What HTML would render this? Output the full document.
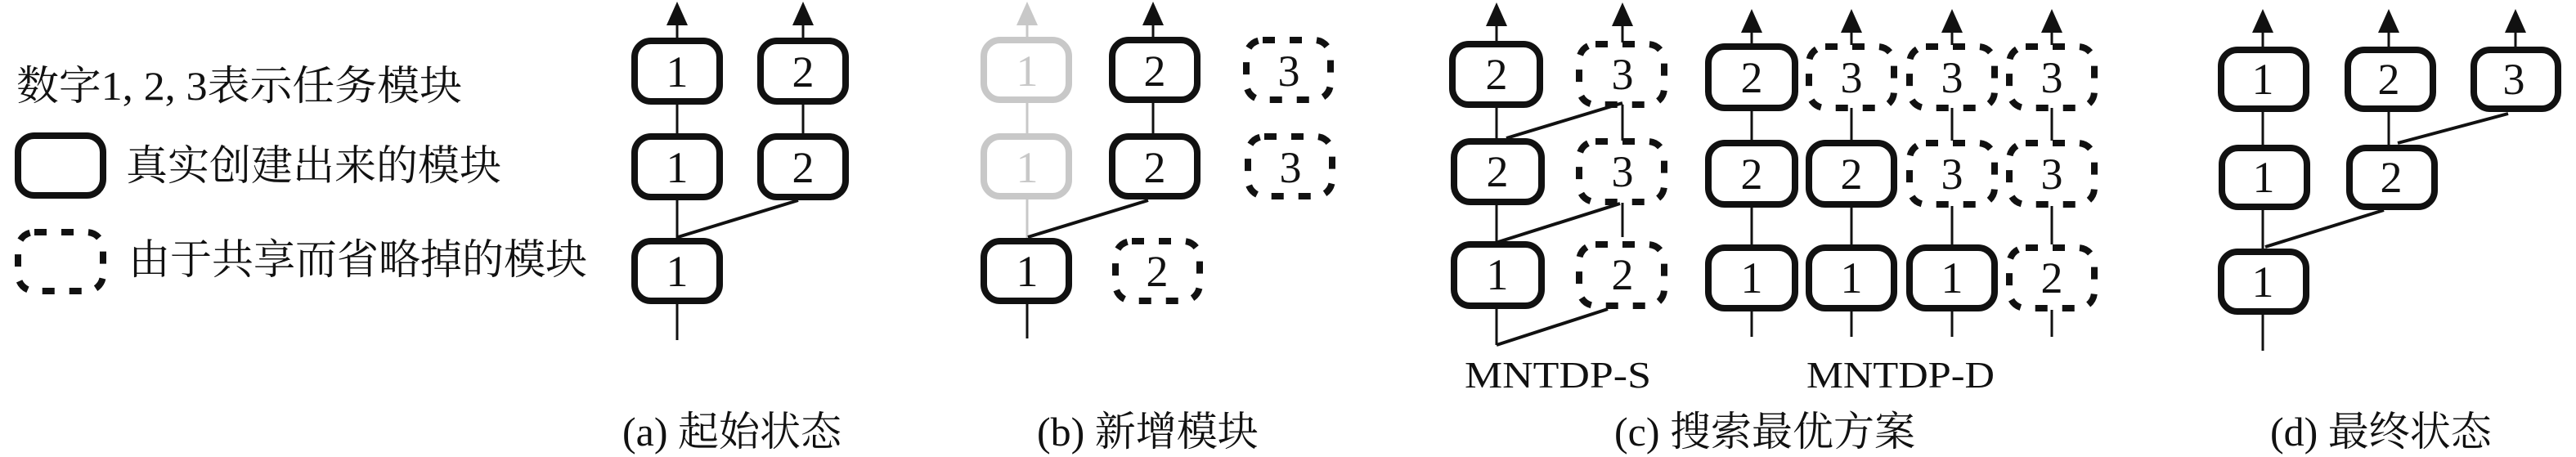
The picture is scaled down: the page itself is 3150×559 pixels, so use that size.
<!DOCTYPE html>
<html><head><meta charset="utf-8"><style>
html,body{margin:0;padding:0;background:#fff;}
svg{display:block;}
.t{font-family:"Liberation Serif","Noto Serif CJK SC",serif;fill:#111;}
.n{font-family:"Liberation Serif",serif;font-size:54px;fill:#111;text-anchor:middle;}
</style></head><body>
<svg width="3150" height="559" viewBox="0 0 3150 559" xmlns="http://www.w3.org/2000/svg">
<defs>
<g id="ah"><polygon points="0,-2 -13,27 13,27" fill="#111"/></g>
<g id="ahg"><polygon points="0,-2 -13,27 13,27" fill="#c8c8c8"/></g>
</defs>
<g fill="none" stroke-linecap="butt">
<rect x="22" y="166" width="104" height="73" rx="20" stroke="#111" stroke-width="8"/>
<rect x="22" y="284" width="104" height="72" rx="20" stroke="#111" stroke-width="8" stroke-dasharray="15 18"/>
</g>
<text class="t" x="20" y="122" font-size="50" textLength="545" lengthAdjust="spacingAndGlyphs">数字1, 2, 3表示任务模块</text>
<text class="t" x="154" y="220" font-size="51">真实创建出来的模块</text>
<text class="t" x="157" y="335" font-size="51">由于共享而省略掉的模块</text>

<!-- ===== Panel a ===== -->
<g stroke="#111" stroke-width="3" fill="none">
<line x1="828" y1="25" x2="828" y2="46"/>
<line x1="982" y1="25" x2="982" y2="46"/>
<line x1="828" y1="126" x2="828" y2="163"/>
<line x1="982" y1="126" x2="982" y2="163"/>
<line x1="828" y1="245" x2="828" y2="291"/>
<line x1="828" y1="371" x2="828" y2="416"/>
<line x1="976" y1="245" x2="829" y2="290" stroke-width="4"/>
</g>
<use href="#ah" x="828" y="4"/><use href="#ah" x="982" y="4"/>
<g fill="#fff" stroke="#111" stroke-width="8">
<rect x="776" y="50" width="104" height="74" rx="20"/>
<rect x="930" y="50" width="104" height="74" rx="20"/>
<rect x="776" y="167" width="104" height="74" rx="20"/>
<rect x="930" y="167" width="104" height="74" rx="20"/>
<rect x="776" y="295" width="104" height="73" rx="20"/>
</g>
<text class="n" x="828" y="106">1</text><text class="n" x="982" y="106">2</text>
<text class="n" x="828" y="223">1</text><text class="n" x="982" y="223">2</text>
<text class="n" x="828" y="350">1</text>
<text class="t" x="761" y="545" font-size="50">(a) 起始状态</text>

<!-- ===== Panel b ===== -->
<g stroke-width="3" fill="none">
<line x1="1256" y1="25" x2="1256" y2="45" stroke="#c8c8c8"/>
<line x1="1256" y1="125" x2="1256" y2="163" stroke="#c8c8c8"/>
<line x1="1256" y1="243" x2="1256" y2="291" stroke="#c8c8c8"/>
<line x1="1410" y1="25" x2="1410" y2="45" stroke="#111"/>
<line x1="1410" y1="125" x2="1410" y2="163" stroke="#111"/>
<line x1="1256" y1="371" x2="1256" y2="414" stroke="#111"/>
<line x1="1404" y1="245" x2="1257" y2="290" stroke="#111" stroke-width="4"/>
</g>
<use href="#ahg" x="1256" y="4"/><use href="#ah" x="1410" y="4"/>
<g fill="#fff" stroke-width="8">
<rect x="1203" y="49" width="104" height="73" rx="20" stroke="#c8c8c8"/>
<rect x="1203" y="167" width="104" height="73" rx="20" stroke="#c8c8c8"/>
<rect x="1203" y="295" width="104" height="73" rx="20" stroke="#111"/>
<rect x="1360" y="49" width="104" height="73" rx="20" stroke="#111"/>
<rect x="1360" y="167" width="104" height="73" rx="20" stroke="#111"/>
<rect x="1524" y="49" width="103" height="73" rx="20" stroke="#111" stroke-dasharray="15 18"/>
<rect x="1526" y="167" width="103" height="73" rx="20" stroke="#111" stroke-dasharray="15 18"/>
<rect x="1364" y="295" width="103" height="73" rx="20" stroke="#111" stroke-dasharray="15 18"/>
</g>
<text class="n" x="1256" y="105" style="fill:#c8c8c8">1</text>
<text class="n" x="1256" y="223" style="fill:#c8c8c8">1</text>
<text class="n" x="1256" y="350">1</text>
<text class="n" x="1412" y="105">2</text>
<text class="n" x="1412" y="223">2</text>
<text class="n" x="1415" y="350">2</text>
<text class="n" x="1576" y="105">3</text>
<text class="n" x="1578" y="223">3</text>
<text class="t" x="1268" y="545" font-size="50">(b) 新增模块</text>

<!-- ===== Panel c ===== -->
<g stroke="#111" stroke-width="3" fill="none">
<line x1="1830" y1="25" x2="1830" y2="50"/>
<line x1="1830" y1="130" x2="1830" y2="171"/>
<line x1="1830" y1="250" x2="1830" y2="298"/>
<line x1="1830" y1="378" x2="1830" y2="422"/>
<line x1="1984" y1="25" x2="1984" y2="52"/>
<line x1="1984" y1="128" x2="1984" y2="172"/>
<line x1="1984" y1="248" x2="1984" y2="290"/>
<g stroke-width="4">
<line x1="1984" y1="126" x2="1842" y2="169"/>
<line x1="1981" y1="249" x2="1832" y2="296"/>
<line x1="1966" y1="378" x2="1830" y2="422"/>
</g>
<line x1="2142" y1="25" x2="2142" y2="53"/>
<line x1="2142" y1="132" x2="2142" y2="172"/>
<line x1="2142" y1="252" x2="2142" y2="299"/>
<line x1="2142" y1="379" x2="2142" y2="412"/>
<line x1="2264" y1="25" x2="2264" y2="55"/>
<line x1="2264" y1="132" x2="2264" y2="172"/>
<line x1="2264" y1="252" x2="2264" y2="299"/>
<line x1="2264" y1="379" x2="2264" y2="412"/>
<line x1="2387" y1="25" x2="2387" y2="55"/>
<line x1="2387" y1="132" x2="2387" y2="172"/>
<line x1="2387" y1="252" x2="2387" y2="299"/>
<line x1="2387" y1="379" x2="2387" y2="412"/>
<line x1="2509" y1="25" x2="2509" y2="55"/>
<line x1="2509" y1="132" x2="2509" y2="172"/>
<line x1="2509" y1="252" x2="2509" y2="299"/>
<line x1="2509" y1="379" x2="2509" y2="412"/>
</g>
<use href="#ah" x="1830" y="5"/><use href="#ah" x="1984" y="5"/>
<use href="#ah" x="2142" y="13"/><use href="#ah" x="2264" y="13"/>
<use href="#ah" x="2387" y="13"/><use href="#ah" x="2509" y="13"/>
<g fill="none" stroke="#111" stroke-width="8">
<rect x="1776" y="54" width="107" height="74" rx="20"/>
<rect x="1778" y="173" width="107" height="74" rx="20"/>
<rect x="1778" y="299" width="107" height="75" rx="20"/>
<rect x="1931" y="54" width="104" height="74" rx="20" stroke-dasharray="15 18"/>
<rect x="1931" y="173" width="104" height="74" rx="20" stroke-dasharray="15 18"/>
<rect x="1931" y="299" width="104" height="75" rx="20" stroke-dasharray="15 18"/>
<rect x="2089" y="57" width="106" height="75" rx="20"/>
<rect x="2089" y="175" width="106" height="75" rx="20"/>
<rect x="2089" y="303" width="106" height="74" rx="20"/>
<rect x="2212" y="57" width="104" height="75" rx="20" stroke-dasharray="15 18"/>
<rect x="2212" y="175" width="104" height="75" rx="20"/>
<rect x="2212" y="303" width="104" height="74" rx="20"/>
<rect x="2335" y="57" width="104" height="75" rx="20" stroke-dasharray="15 18"/>
<rect x="2335" y="175" width="104" height="75" rx="20" stroke-dasharray="15 18"/>
<rect x="2335" y="303" width="104" height="74" rx="20"/>
<rect x="2457" y="57" width="104" height="75" rx="20" stroke-dasharray="15 18"/>
<rect x="2457" y="175" width="104" height="75" rx="20" stroke-dasharray="15 18"/>
<rect x="2457" y="303" width="104" height="74" rx="20" stroke-dasharray="15 18"/>
</g>
<text class="n" x="1830" y="109">2</text><text class="n" x="1984" y="109">3</text>
<text class="n" x="1831" y="228">2</text><text class="n" x="1984" y="228">3</text>
<text class="n" x="1831" y="354">1</text><text class="n" x="1984" y="354">2</text>
<text class="n" x="2142" y="113">2</text><text class="n" x="2264" y="113">3</text><text class="n" x="2387" y="113">3</text><text class="n" x="2509" y="113">3</text>
<text class="n" x="2142" y="231">2</text><text class="n" x="2264" y="231">2</text><text class="n" x="2387" y="231">3</text><text class="n" x="2509" y="231">3</text>
<text class="n" x="2142" y="358">1</text><text class="n" x="2264" y="358">1</text><text class="n" x="2387" y="358">1</text><text class="n" x="2509" y="358">2</text>
<text class="t" x="1791" y="474" font-size="46" textLength="228" lengthAdjust="spacingAndGlyphs">MNTDP-S</text>
<text class="t" x="2209" y="474" font-size="46" textLength="230" lengthAdjust="spacingAndGlyphs">MNTDP-D</text>
<text class="t" x="1974" y="545" font-size="50">(c) 搜索最优方案</text>

<!-- ===== Panel d ===== -->
<g stroke="#111" stroke-width="3" fill="none">
<line x1="2767" y1="25" x2="2767" y2="57"/>
<line x1="2767" y1="136" x2="2767" y2="177"/>
<line x1="2767" y1="255" x2="2767" y2="304"/>
<line x1="2767" y1="384" x2="2767" y2="429"/>
<line x1="2921" y1="25" x2="2921" y2="57"/>
<line x1="2921" y1="136" x2="2921" y2="177"/>
<line x1="3076" y1="25" x2="3076" y2="57"/>
<g stroke-width="4">
<line x1="3067" y1="139" x2="2932" y2="175"/>
<line x1="2915" y1="257" x2="2770" y2="302"/>
</g>
</g>
<use href="#ah" x="2767" y="13"/><use href="#ah" x="2921" y="13"/><use href="#ah" x="3076" y="13"/>
<g fill="none" stroke="#111" stroke-width="8">
<rect x="2716" y="61" width="104" height="72" rx="20"/>
<rect x="2871" y="61" width="104" height="72" rx="20"/>
<rect x="3025" y="61" width="103" height="72" rx="20"/>
<rect x="2717" y="181" width="104" height="72" rx="20"/>
<rect x="2873" y="181" width="104" height="72" rx="20"/>
<rect x="2716" y="308" width="104" height="73" rx="20"/>
</g>
<text class="n" x="2767" y="115">1</text><text class="n" x="2921" y="115">2</text><text class="n" x="3074" y="115">3</text>
<text class="n" x="2768" y="235">1</text><text class="n" x="2924" y="235">2</text>
<text class="n" x="2767" y="363">1</text>
<text class="t" x="2776" y="545" font-size="50">(d) 最终状态</text>
</svg>
</body></html>
